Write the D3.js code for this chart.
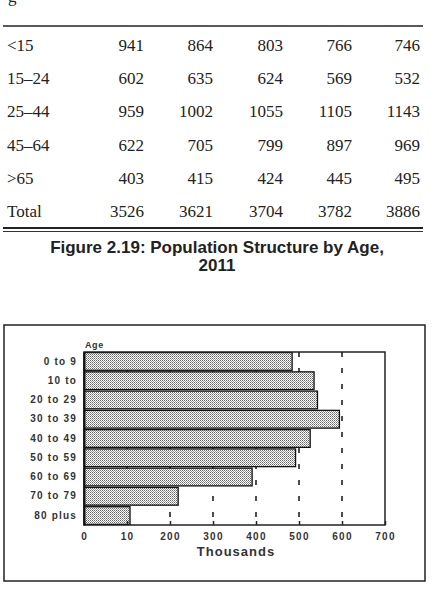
<!DOCTYPE html>
<html>
<head>
<meta charset="utf-8">
<script src="https://cdn.jsdelivr.net/npm/d3@7"></script>
<style>
  body { margin: 0; background: #fff; }
  svg { display: block; }
</style>
</head>
<body>
<div id="page"></div>
<script>
// table above the figure (header row is cut off in the scan)
const tableRows = ['<15', '15–24', '25–44', '45–64', '>65', 'Total'];
const col1 = [941, 602, 959, 622, 403, 3526];
const col2 = [864, 635, 1002, 705, 415, 3621];
const col3 = [803, 624, 1055, 799, 424, 3704];
const col4 = [766, 569, 1105, 897, 445, 3782];
const col5 = [746, 532, 1143, 969, 495, 3886];

// figure 2.19
const ageGroups = ['0 to 9', '10 to', '20 to 29', '30 to 39', '40 to 49', '50 to 59', '60 to 69', '70 to 79', '80 plus'];
const population = [484, 535, 543, 594, 526, 492, 391, 219, 107];
const xTicks = [0, 100, 200, 300, 400, 500, 600, 700];
const xTickLabels = ['0', '10', '200', '300', '400', '500', '600', '700'];
const gridTicks = [100, 200, 300, 400, 500, 600];

const width = 434;
const height = 590;

const svg = d3.select('#page')
  .append('svg')
  .attr('width', width)
  .attr('height', height);

// dotted fill like the scanned bars
const pat = svg.append('defs')
  .append('pattern')
  .attr('id', 'dots')
  .attr('width', 2)
  .attr('height', 2)
  .attr('patternUnits', 'userSpaceOnUse');
pat.append('rect').attr('width', 2).attr('height', 2).attr('fill', '#fff');
pat.append('rect').attr('x', 0).attr('y', 0).attr('width', 1).attr('height', 1).attr('fill', '#666');
pat.append('rect').attr('x', 1).attr('y', 1).attr('width', 1).attr('height', 1).attr('fill', '#999');

// ---- table ----
const serif = '"Liberation Serif", "Times New Roman", serif';

// cut off caption descender at the very top
svg.append('text')
  .attr('x', 8)
  .attr('y', 2)
  .style('font-family', serif)
  .style('font-size', '17px')
  .style('fill', '#222')
  .text('g');

svg.append('line')
  .attr('x1', 3).attr('x2', 423)
  .attr('y1', 26).attr('y2', 26)
  .style('stroke', '#222')
  .style('stroke-width', 1.5);

const rowY = d3.scalePoint()
  .domain(tableRows)
  .range([51, 217]);

const colRight = [144, 213, 283, 352, 420];
const cols = [col1, col2, col3, col4, col5];

const rows = svg.append('g')
  .selectAll('g')
  .data(tableRows)
  .enter()
  .append('g')
  .attr('transform', (d) => `translate(0, ${rowY(d)})`)
  .style('font-family', serif)
  .style('font-size', '17px')
  .style('fill', '#222');

rows.append('text')
  .attr('x', 7)
  .text((d) => d);

cols.forEach((col, c) => {
  rows.append('text')
    .attr('x', colRight[c])
    .attr('text-anchor', 'end')
    .text((_, i) => col[i]);
});

svg.append('line')
  .attr('x1', 3).attr('x2', 423)
  .attr('y1', 228).attr('y2', 228)
  .style('stroke', '#222')
  .style('stroke-width', 2);
svg.append('line')
  .attr('x1', 3).attr('x2', 423)
  .attr('y1', 231.5).attr('y2', 231.5)
  .style('stroke', '#333')
  .style('stroke-width', 1);

// ---- title ----
const sans = '"Liberation Sans", Arial, Helvetica, sans-serif';
const title = svg.append('text')
  .attr('text-anchor', 'middle')
  .style('font-family', sans)
  .style('font-size', '17px')
  .style('font-weight', 'bold')
  .style('fill', '#222');
title.append('tspan').attr('x', 217).attr('y', 253).text('Figure 2.19: Population Structure by Age,');
title.append('tspan').attr('x', 217).attr('y', 271).text('2011');

// ---- chart ----
svg.append('rect')
  .attr('x', 4)
  .attr('y', 325)
  .attr('width', 421)
  .attr('height', 256)
  .style('fill', 'none')
  .style('stroke', '#222')
  .style('stroke-width', 1.5);

const x = d3.scaleLinear()
  .domain([0, 700])
  .range([84, 385]);

const y = d3.scaleBand()
  .domain(ageGroups)
  .range([352, 525])
  .paddingInner(0.08)
  .paddingOuter(0.03);

// dashed grid lines
svg.append('g')
  .selectAll('line')
  .data(gridTicks)
  .enter()
  .append('line')
  .attr('x1', (d) => x(d))
  .attr('x2', (d) => x(d))
  .attr('y1', 352)
  .attr('y2', 525)
  .style('stroke', '#222')
  .style('stroke-width', 1.6)
  .style('stroke-dasharray', '5,11');

// bars
svg.append('g')
  .selectAll('rect')
  .data(population)
  .enter()
  .append('rect')
  .attr('x', x(0))
  .attr('y', (_, i) => y(ageGroups[i]))
  .attr('width', (d) => x(d) - x(0))
  .attr('height', y.bandwidth())
  .style('fill', 'url(#dots)')
  .style('stroke', '#111')
  .style('stroke-width', 1.3);

// plot frame
svg.append('rect')
  .attr('x', 84)
  .attr('y', 352)
  .attr('width', 301)
  .attr('height', 173)
  .style('fill', 'none')
  .style('stroke', '#222')
  .style('stroke-width', 1.5);

const xAxis = svg.append('g')
  .attr('transform', 'translate(0, 525)')
  .call(d3.axisBottom(x)
    .tickValues(xTicks)
    .tickFormat((d, i) => xTickLabels[i])
    .tickSizeInner(-4)
    .tickSizeOuter(0)
    .tickPadding(7.5));
xAxis.select('.domain').remove();
xAxis.selectAll('line').style('stroke', '#222').style('stroke-width', 1.5);
xAxis.selectAll('text')
  .style('font-family', sans)
  .style('font-size', '10px')
  .style('font-weight', 'bold')
  .style('letter-spacing', '1.2px')
  .style('fill', '#333');

const yAxis = svg.append('g')
  .attr('transform', 'translate(84, 0)')
  .call(d3.axisLeft(y).tickSize(0).tickPadding(7));
yAxis.select('.domain').style('stroke', '#111').style('stroke-width', 2);
yAxis.selectAll('text')
  .style('font-family', sans)
  .style('font-size', '10px')
  .style('font-weight', 'bold')
  .style('letter-spacing', '1.2px')
  .style('fill', '#333');

svg.append('text')
  .attr('x', 85)
  .attr('y', 348)
  .style('font-family', sans)
  .style('font-size', '9px')
  .style('font-weight', 'bold')
  .style('letter-spacing', '0.6px')
  .style('fill', '#333')
  .text('Age');

svg.append('text')
  .attr('x', 236)
  .attr('y', 556)
  .attr('text-anchor', 'middle')
  .style('font-family', sans)
  .style('font-size', '13px')
  .style('font-weight', 'bold')
  .style('letter-spacing', '1px')
  .style('fill', '#333')
  .text('Thousands');
</script>
</body>
</html>
